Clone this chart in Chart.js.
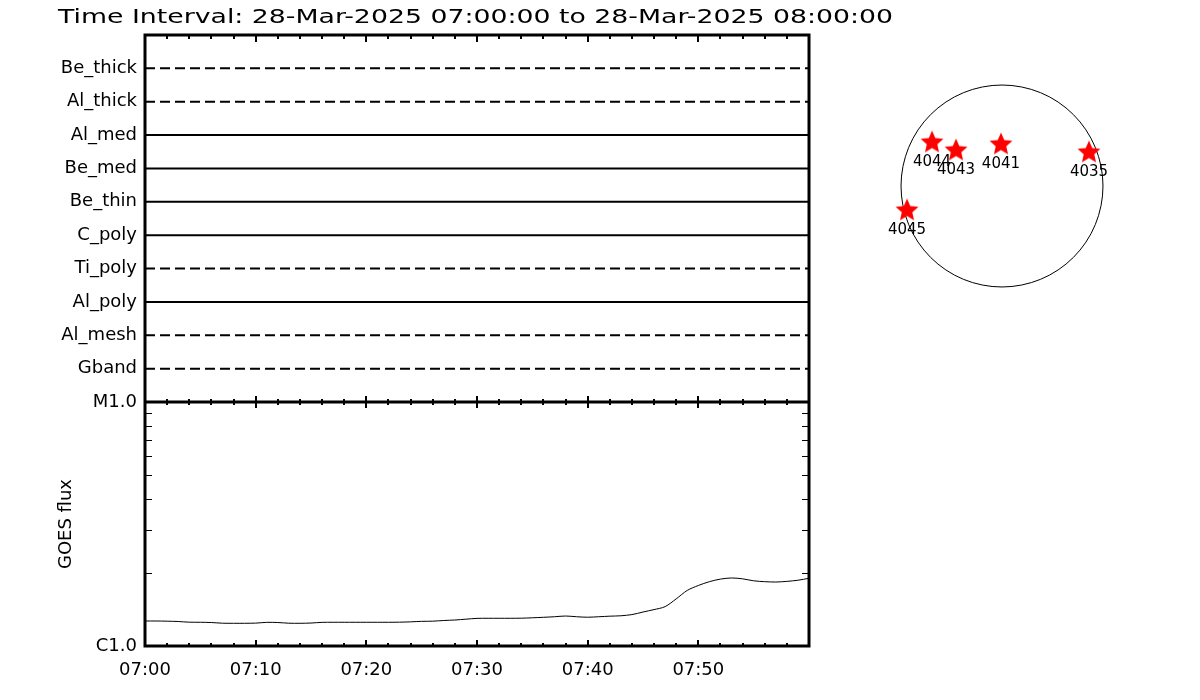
<!DOCTYPE html>
<html>
<head>
<meta charset="utf-8">
<title>XRT filters and GOES flux</title>
<script src="https://cdn.jsdelivr.net/npm/chart.js@4"></script>
<style>
  body { margin: 0; background: #fff; }
  #wrap { position: relative; width: 1200px; height: 700px; }
  #main { position: absolute; left: 0; top: 0; }
  #disk { position: absolute; left: 872px; top: 56px; }
</style>
</head>
<body>
<div id="wrap">
  <canvas id="main" width="1200" height="700"></canvas>
  <canvas id="disk" width="260" height="260"></canvas>
</div>
<script>
const titleText = "Time Interval: 28-Mar-2025 07:00:00 to 28-Mar-2025 08:00:00";

// filter rows, bottom to top
const filterNames = ["Gband", "Al_mesh", "Al_poly", "Ti_poly", "C_poly", "Be_thin", "Be_med", "Al_med", "Al_thick", "Be_thick"];
const filterUsed = [false, false, true, false, true, true, true, true, false, false];
const timeSpan = [0, 60];

// GOES flux, minutes after 07:00, in C-class units (1 = 1e-6 W/m2)
const goesMinutes = [0,1,2,3,4,5,6,7,8,9,10,11,12,13,14,15,16,17,18,19,20,21,22,23,24,25,26,27,28,29,30,
                     31,32,33,34,35,36,37,38,39,40,41,42,43,44,45,46,47,48,49,50,51,52,53,54,55,56,57,58,59,60];
const goesFlux = [1.266,1.266,1.264,1.260,1.252,1.251,1.248,1.240,1.239,1.239,1.241,1.250,1.248,1.240,1.239,1.242,
                  1.250,1.251,1.251,1.251,1.251,1.251,1.251,1.252,1.256,1.262,1.264,1.272,1.278,1.288,1.298,
                  1.299,1.299,1.299,1.300,1.305,1.311,1.318,1.327,1.318,1.312,1.318,1.325,1.330,1.345,1.378,
                  1.410,1.450,1.560,1.690,1.770,1.835,1.880,1.900,1.885,1.850,1.835,1.829,1.840,1.860,1.895];
const goesTickValues = [1, 10];
const goesTickLabels = ["C1.0", "M1.0"];
const timeTickValues = [0, 10, 20, 30, 40, 50];
const timeTickLabels = ["07:00", "07:10", "07:20", "07:30", "07:40", "07:50"];

// active regions, arcsec from disk centre
const regionNums = ["4044", "4043", "4041", "4035", "4045"];
const regionX = [-665, -437, -10, 827, -903];
const regionY = [413, 337, 394, 318, -233];
const solarRadius = 960;

const FONT = '"DejaVu Sans", sans-serif';

const titlePlugin = {
  id: 'intervalTitle',
  afterDraw(chart) {
    const ctx = chart.ctx;
    ctx.save();
    ctx.font = '20px ' + FONT;
    const w = ctx.measureText(titleText).width;
    ctx.translate(58, 23);
    ctx.scale(835 / w, 1);
    ctx.fillStyle = '#000';
    ctx.textBaseline = 'alphabetic';
    ctx.fillText(titleText, 0, 0);
    ctx.restore();
  }
};

// frame + inward ticks, idl style
const framePlugin = {
  id: 'frame',
  afterDatasetsDraw(chart) {
    const ctx = chart.ctx;
    const x = chart.scales.x, yf = chart.scales.yf, yg = chart.scales.yg;
    const L = x.left, R = x.right;
    const T = yf.top, M = yf.bottom, B = yg.bottom;
    ctx.save();
    ctx.strokeStyle = '#000';
    ctx.lineWidth = 2;
    ctx.beginPath();
    for (let m = 2; m < 60; m += 2) {
      const px = Math.round(x.getPixelForValue(m));
      const big = m % 10 === 0;
      ctx.moveTo(px, T); ctx.lineTo(px, T + (big ? 7 : 4));
      ctx.moveTo(px, M - (big ? 6 : 3)); ctx.lineTo(px, M + (big ? 6 : 3));
      ctx.moveTo(px, B); ctx.lineTo(px, B - (big ? 6 : 3));
    }
    ctx.stroke();
    ctx.lineWidth = 1;
    ctx.beginPath();
    for (let v = 2; v < 10; v++) {
      const py = Math.round(yg.getPixelForValue(v)) + 0.5;
      ctx.moveTo(L, py); ctx.lineTo(L + 7, py);
      ctx.moveTo(R, py); ctx.lineTo(R - 7, py);
    }
    ctx.stroke();
    ctx.lineWidth = 3;
    ctx.strokeRect(L, T, R - L, B - T);
    ctx.beginPath();
    ctx.moveTo(L, M); ctx.lineTo(R, M);
    ctx.stroke();
    ctx.restore();
  }
};

const filterSets = filterNames.map((name, i) => ({
  label: name,
  yAxisID: 'yf',
  data: timeSpan.map(t => ({x: t, y: i + 1})),
  borderColor: '#000',
  borderWidth: 2,
  borderDash: filterUsed[i] ? [] : [10, 5],
  pointRadius: 0
}));

new Chart(document.getElementById('main'), {
  type: 'line',
  data: {
    datasets: filterSets.concat([{
      label: 'GOES flux',
      yAxisID: 'yg',
      data: goesMinutes.map((m, i) => ({x: m, y: goesFlux[i]})),
      borderColor: '#000',
      borderWidth: 1,
      tension: 0.3,
      pointRadius: 0
    }])
  },
  options: {
    responsive: false,
    animation: false,
    layout: { padding: { top: 35, right: 391, left: 0, bottom: 0 } },
    plugins: { legend: { display: false }, tooltip: { enabled: false }, title: { display: false } },
    scales: {
      x: {
        type: 'linear', min: 0, max: 60,
        afterBuildTicks: s => { s.ticks = timeTickValues.map(v => ({value: v})); },
        ticks: {
          callback: v => timeTickLabels[timeTickValues.indexOf(v)] ?? '',
          font: { family: FONT, size: 18 }, color: '#000', padding: 14, maxRotation: 0, autoSkip: false
        },
        grid: { display: false, drawTicks: false },
        border: { display: false },
        afterFit: s => { s.height = 54; }
      },
      // lower panel first: chart.js stacks left axes last-defined on top
      yg: {
        type: 'logarithmic', min: 1, max: 10, position: 'left', stack: 'panels', stackWeight: 244,
        afterBuildTicks: s => { s.ticks = goesTickValues.map(v => ({value: v})); },
        ticks: {
          callback: v => goesTickLabels[goesTickValues.indexOf(v)] ?? '',
          font: { family: FONT, size: 18 }, color: '#000', padding: 8, autoSkip: false
        },
        title: {
          display: true, text: 'GOES flux', color: '#000',
          font: { family: FONT, size: 18 }, padding: { top: 56, bottom: 0 }
        },
        grid: { display: false, drawTicks: false },
        border: { display: false },
        afterFit: s => { s.width = 145; }
      },
      yf: {
        type: 'linear', min: 0, max: 11, position: 'left', stack: 'panels', stackWeight: 367,
        afterBuildTicks: s => { s.ticks = filterNames.map((n, i) => ({value: i + 1})); },
        ticks: {
          callback: v => filterNames[v - 1] ?? '',
          font: { family: FONT, size: 18 }, color: '#000', padding: 8, autoSkip: false
        },
        grid: { display: false, drawTicks: false },
        border: { display: false },
        afterFit: s => { s.width = 145; }
      }
    }
  },
  plugins: [titlePlugin, framePlugin]
});

// filled red star for the region markers
function makeStar(r) {
  const c = document.createElement('canvas');
  c.width = c.height = 2 * r + 2;
  const g = c.getContext('2d');
  g.fillStyle = '#ff0000';
  g.beginPath();
  for (let k = 0; k < 10; k++) {
    const rad = k % 2 === 0 ? r : r * 0.46;
    const a = -Math.PI / 2 + k * Math.PI / 5;
    const px = r + 1 + rad * Math.cos(a), py = r + 1 + rad * Math.sin(a);
    if (k === 0) g.moveTo(px, py); else g.lineTo(px, py);
  }
  g.closePath();
  g.fill();
  return c;
}

const diskPlugin = {
  id: 'disk',
  beforeDatasetsDraw(chart) {
    const ctx = chart.ctx;
    const x = chart.scales.x, y = chart.scales.y;
    const cx = x.getPixelForValue(0), cy = y.getPixelForValue(0);
    const r = x.getPixelForValue(solarRadius) - cx;
    ctx.save();
    ctx.strokeStyle = '#000';
    ctx.lineWidth = 1;
    ctx.beginPath();
    ctx.arc(cx, cy, r, 0, 2 * Math.PI);
    ctx.stroke();
    ctx.restore();
  },
  afterDatasetsDraw(chart) {
    const ctx = chart.ctx;
    const pts = chart.getDatasetMeta(0).data;
    ctx.save();
    ctx.fillStyle = '#000';
    ctx.font = '15px ' + FONT;
    ctx.textAlign = 'center';
    ctx.textBaseline = 'middle';
    pts.forEach((p, i) => ctx.fillText(regionNums[i], p.x, p.y + 20));
    ctx.restore();
  }
};

new Chart(document.getElementById('disk'), {
  type: 'scatter',
  data: {
    datasets: [{
      data: regionX.map((v, i) => ({x: v, y: regionY[i]})),
      pointStyle: makeStar(12),
      pointRadius: 12
    }]
  },
  options: {
    responsive: false,
    animation: false,
    layout: { padding: 0, autoPadding: false },
    plugins: { legend: { display: false }, tooltip: { enabled: false } },
    scales: {
      x: { display: false, min: -1236, max: 1236 },
      y: { display: false, min: -1236, max: 1236 }
    }
  },
  plugins: [diskPlugin]
});
</script>
</body>
</html>
